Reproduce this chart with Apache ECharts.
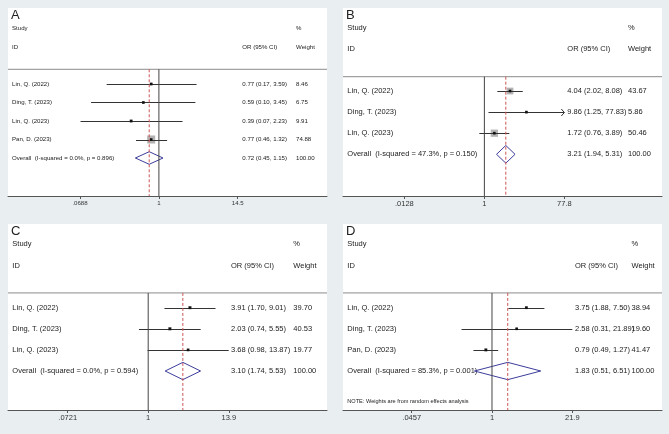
<!DOCTYPE html>
<html><head><meta charset="utf-8">
<script src="https://cdn.jsdelivr.net/npm/echarts@6/dist/echarts.min.js"></script>
<style>html,body{margin:0;padding:0;background:#e9eff1}#c{width:669px;height:434px}</style>
</head><body><div id="c"></div><script>
// ---------- DATA ----------
const studiesA = ['Lin, Q. (2022)', 'Ding, T. (2023)', 'Lin, Q. (2023)', 'Pan, D. (2023)'];
const orA = [0.77, 0.59, 0.39, 0.77];
const loA = [0.17, 0.10, 0.07, 0.46];
const hiA = [3.59, 3.45, 2.23, 1.32];
const weightA = [8.46, 6.75, 9.91, 74.88];
const overallA = [0.72, 0.45, 1.15];
const overallLabelA = 'Overall  (I-squared = 0.0%, p = 0.896)';
const ticksA = [0.0688, 1, 14.5];
const tickLabelsA = ['.0688', '1', '14.5'];

const studiesB = ['Lin, Q. (2022)', 'Ding, T. (2023)', 'Lin, Q. (2023)'];
const orB = [4.04, 9.86, 1.72];
const loB = [2.02, 1.25, 0.76];
const hiB = [8.08, 77.83, 3.89];
const weightB = [43.67, 5.86, 50.46];
const overallB = [3.21, 1.94, 5.31];
const overallLabelB = 'Overall  (I-squared = 47.3%, p = 0.150)';
const ticksB = [0.0128, 1, 77.8];
const tickLabelsB = ['.0128', '1', '77.8'];

const studiesC = ['Lin, Q. (2022)', 'Ding, T. (2023)', 'Lin, Q. (2023)'];
const orC = [3.91, 2.03, 3.68];
const loC = [1.70, 0.74, 0.98];
const hiC = [9.01, 5.55, 13.87];
const weightC = [39.70, 40.53, 19.77];
const overallC = [3.10, 1.74, 5.53];
const overallLabelC = 'Overall  (I-squared = 0.0%, p = 0.594)';
const ticksC = [0.0721, 1, 13.9];
const tickLabelsC = ['.0721', '1', '13.9'];

const studiesD = ['Lin, Q. (2022)', 'Ding, T. (2023)', 'Pan, D. (2023)'];
const orD = [3.75, 2.58, 0.79];
const loD = [1.88, 0.31, 0.49];
const hiD = [7.50, 21.89, 1.27];
const weightD = [38.94, 19.60, 41.47];
const overallD = [1.83, 0.51, 6.51];
const overallLabelD = 'Overall  (I-squared = 85.3%, p = 0.001)';
const ticksD = [0.0457, 1, 21.9];
const tickLabelsD = ['.0457', '1', '21.9'];
const noteD = 'NOTE: Weights are from random effects analysis';

const panelLetters = ['A', 'B', 'C', 'D'];

// ---------- LAYOUT / STYLE ----------
const FONT = '"Liberation Sans", Arial, sans-serif';
const layouts = [
  {grid:{left:8,top:8,width:319,height:188}, xMin:0.005974, xMax:300.1, yMin:-3.108, yMax:7.054, sep:0.205, font:6.1, tickFont:6.1, nameX:4, colOR:234.3, colW:288, boxK:0.93, dH:0.34},
  {grid:{left:343,top:8,width:319,height:188}, xMin:0.000453, xMax:15873, yMin:-2.934, yMax:5.976, sep:0.322, font:7.5, tickFont:7.5, nameX:4.3, colOR:224.3, colW:285, boxK:1.02, dH:0.42},
  {grid:{left:8,top:224,width:319,height:186}, xMin:0.010263, xMax:343.8, yMin:-2.967, yMax:5.848, sep:0.3, font:7.5, tickFont:7.5, nameX:4.3, colOR:223, colW:285.3, boxK:0.55, dH:0.41},
  {grid:{left:343,top:224,width:319,height:186}, xMin:0.003258, xMax:688.2, yMin:-2.967, yMax:5.848, sep:0.3, font:7.5, tickFont:7.5, nameX:4.3, colOR:232, colW:288.5, boxK:0.5, dH:0.41, noteRow:5.45, noteFont:5.6}
];

const panelData = [
  {names:studiesA, or:orA, lo:loA, hi:hiA, w:weightA, overall:overallA, overallLabel:overallLabelA, ticks:ticksA, tickLabels:tickLabelsA},
  {names:studiesB, or:orB, lo:loB, hi:hiB, w:weightB, overall:overallB, overallLabel:overallLabelB, ticks:ticksB, tickLabels:tickLabelsB},
  {names:studiesC, or:orC, lo:loC, hi:hiC, w:weightC, overall:overallC, overallLabel:overallLabelC, ticks:ticksC, tickLabels:tickLabelsC},
  {names:studiesD, or:orD, lo:loD, hi:hiD, w:weightD, overall:overallD, overallLabel:overallLabelD, ticks:ticksD, tickLabels:tickLabelsD, note:noteD}
];

const TEXT_COLOR = '#222';
const CI_COLOR = '#333';
const BOX_COLOR = '#b3b3b3';
const DIAMOND_COLOR = '#3d3d9c';

function fmt2(v){ return v.toFixed(2); }
function orText(e,l,h){ return fmt2(e) + ' (' + fmt2(l) + ', ' + fmt2(h) + ')'; }

function txt(x, y, s, size, align){
  return {type:'text', style:{x:x, y:y, text:s, fontSize:size, fontFamily:FONT, fill:TEXT_COLOR, align:align||'left', verticalAlign:'middle'}};
}
function crisp(v){ return Math.round(v) + 0.5; }

const grids = [], xAxes = [], yAxes = [], series = [], graphics = [];

panelData.forEach(function(pd, k){
  const L = layouts[k];
  grids.push(Object.assign({show:true, backgroundColor:'#ffffff', borderWidth:0}, L.grid));
  const tickMin = pd.ticks[0], tickMax = pd.ticks[pd.ticks.length-1];
  xAxes.push({
    type:'log', logBase:10, gridIndex:k, min:L.xMin, max:L.xMax, position:'bottom',
    axisLine:{show:true, onZero:false, lineStyle:{color:'#555', width:1}},
    axisTick:{show:true, customValues:pd.ticks, length:3, lineStyle:{color:'#555', width:1}},
    axisLabel:{show:true, customValues:pd.ticks, fontSize:L.tickFont, fontFamily:FONT, color:'#333', margin:4,
      formatter:function(v){
        let best = 0, bd = Infinity;
        pd.ticks.forEach(function(t, j){ const d = Math.abs(Math.log(t) - Math.log(v)); if (d < bd){ bd = d; best = j; } });
        return pd.tickLabels[best];
      }},
    splitLine:{show:false}, minorTick:{show:false}
  });
  yAxes.push({type:'value', gridIndex:k, inverse:true, min:L.yMin, max:L.yMax, show:false, splitLine:{show:false}});

  // separator line
  series.push({type:'line', xAxisIndex:k, yAxisIndex:k, silent:true, symbol:'none',
    data:[[L.xMin, L.sep],[L.xMax, L.sep]], lineStyle:{color:'#8c8c8c', width:1}});
  // null line at OR = 1
  series.push({type:'line', xAxisIndex:k, yAxisIndex:k, silent:true, symbol:'none',
    data:[[1, L.sep],[1, L.yMax]], lineStyle:{color:'#444', width:1}});
  // pooled estimate dashed line
  series.push({type:'line', xAxisIndex:k, yAxisIndex:k, silent:true, symbol:'none',
    data:[[pd.overall[0], L.sep],[pd.overall[0], L.yMax]], lineStyle:{color:'#cc5555', width:1, type:[3,2]}});

  // header texts
  const headerRows = [[1,-2],[1,-1]];
  if (pd.note) headerRows.push([1, L.noteRow]);
  series.push({type:'custom', xAxisIndex:k, yAxisIndex:k, silent:true, clip:false,
    data:headerRows,
    renderItem:function(params, api){
      const cs = params.coordSys;
      const y = api.coord([1, api.value(1)])[1];
      const i = params.dataIndex;
      let ch;
      if (i === 0) ch = [txt(cs.x+L.nameX, y, 'Study', L.font), txt(cs.x+L.colW, y, '%', L.font)];
      else if (i === 1) ch = [txt(cs.x+L.nameX, y, 'ID', L.font), txt(cs.x+L.colOR, y, 'OR (95% CI)', L.font), txt(cs.x+L.colW, y, 'Weight', L.font)];
      else ch = [txt(cs.x+L.nameX, y, pd.note, L.noteFont)];
      return {type:'group', children:ch};
    }
  });

  // study rows + overall
  const rows = pd.names.map(function(n, i){ return [pd.or[i], pd.lo[i], pd.hi[i], pd.w[i], i+1, 0]; });
  rows.push([pd.overall[0], pd.overall[1], pd.overall[2], 100, pd.names.length+1, 1]);
  series.push({type:'custom', xAxisIndex:k, yAxisIndex:k, silent:true, clip:false,
    data:rows,
    renderItem:function(params, api){
      const cs = params.coordSys;
      const i = params.dataIndex;
      const est = api.value(0), lo = api.value(1), hi = api.value(2), w = api.value(3), row = api.value(4), isOv = api.value(5);
      const pE = api.coord([est, row]);
      const y = pE[1];
      const ch = [];
      const label = isOv ? pd.overallLabel : pd.names[i];
      ch.push(txt(cs.x+L.nameX, y, label, L.font));
      ch.push(txt(cs.x+L.colOR, y, orText(est, lo, hi), L.font));
      ch.push(txt(cs.x+L.colW, y, w.toFixed(2), L.font));
      if (isOv){
        const xl = api.coord([lo, row])[0], xr = api.coord([hi, row])[0];
        const yt = api.coord([est, row - L.dH])[1], yb = api.coord([est, row + L.dH])[1];
        ch.push({type:'polygon', shape:{points:[[xl,y],[pE[0],yt],[xr,y],[pE[0],yb]]},
          style:{fill:'none', stroke:DIAMOND_COLOR, lineWidth:1}});
      } else {
        const size = L.boxK * Math.sqrt(w);
        ch.push({type:'rect', shape:{x:pE[0]-size/2, y:y-size/2, width:size, height:size}, style:{fill:BOX_COLOR}});
        const loC = Math.max(lo, tickMin), hiC = Math.min(hi, tickMax);
        const xl = api.coord([loC, row])[0], xr = api.coord([hiC, row])[0];
        const yc = crisp(y);
        ch.push({type:'line', shape:{x1:xl, y1:yc, x2:xr, y2:yc}, style:{stroke:CI_COLOR, lineWidth:1}});
        if (hi > tickMax){
          ch.push({type:'polyline', shape:{points:[[xr-3,yc-3.5],[xr,yc],[xr-3,yc+3.5]]}, style:{stroke:CI_COLOR, lineWidth:1, fill:'none'}});
        }
        if (lo < tickMin){
          ch.push({type:'polyline', shape:{points:[[xl+3,yc-3.5],[xl,yc],[xl+3,yc+3.5]]}, style:{stroke:CI_COLOR, lineWidth:1, fill:'none'}});
        }
        ch.push({type:'rect', shape:{x:pE[0]-1.3, y:y-1.3, width:2.6, height:2.6}, style:{fill:'#111'}});
      }
      return {type:'group', children:ch};
    }
  });

  graphics.push({type:'text', left:L.grid.left+3, top:L.grid.top+1,
    style:{text:panelLetters[k], fontSize:13, fontFamily:FONT, fill:'#222'}});
});

const chart = echarts.init(document.getElementById('c'), null, {renderer:'canvas'});
chart.setOption({
  animation:false,
  backgroundColor:'#e9eff1',
  grid:grids, xAxis:xAxes, yAxis:yAxes, series:series, graphic:graphics
});
</script></body></html>
